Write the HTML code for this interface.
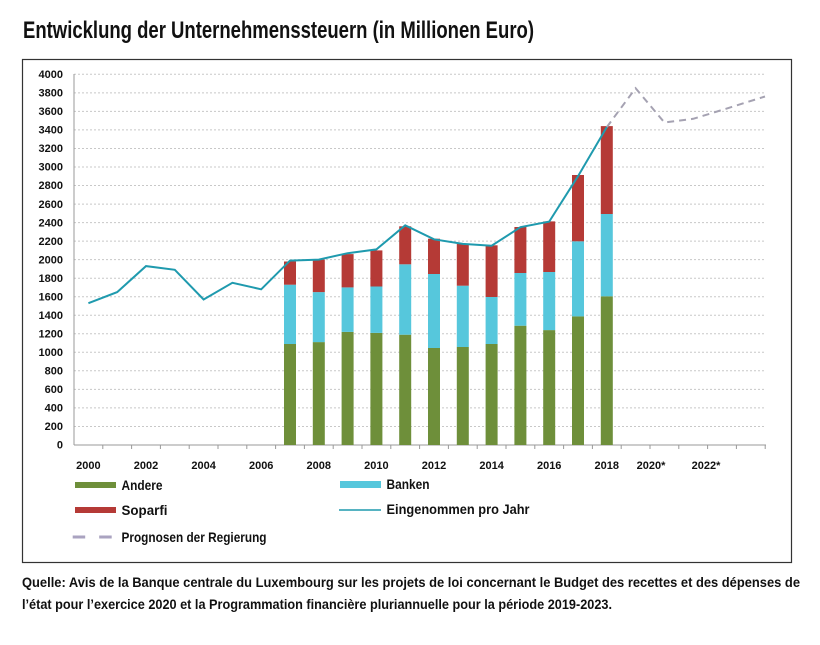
<!DOCTYPE html>
<html><head><meta charset="utf-8"><style>
html,body{margin:0;padding:0;background:#fff;}
svg{display:block;font-family:"Liberation Sans",sans-serif;}
</style></head><body>
<svg width="820" height="645" viewBox="0 0 820 645" xmlns="http://www.w3.org/2000/svg">
<rect width="820" height="645" fill="#fff"/>
<text x="23" y="38" font-size="24" font-weight="bold" fill="#111" textLength="511" lengthAdjust="spacingAndGlyphs">Entwicklung der Unternehmenssteuern (in Millionen Euro)</text>
<rect x="22.5" y="59.5" width="769" height="503" fill="none" stroke="#333" stroke-width="1.2"/>
<g stroke="#c8c8c8" stroke-width="1" stroke-dasharray="2,2">
<line x1="74" x2="766" y1="74.3" y2="74.3"/><line x1="74" x2="766" y1="92.9" y2="92.9"/><line x1="74" x2="766" y1="111.4" y2="111.4"/><line x1="74" x2="766" y1="129.9" y2="129.9"/><line x1="74" x2="766" y1="148.5" y2="148.5"/><line x1="74" x2="766" y1="167.0" y2="167.0"/><line x1="74" x2="766" y1="185.5" y2="185.5"/><line x1="74" x2="766" y1="204.1" y2="204.1"/><line x1="74" x2="766" y1="222.6" y2="222.6"/><line x1="74" x2="766" y1="241.1" y2="241.1"/><line x1="74" x2="766" y1="259.6" y2="259.6"/><line x1="74" x2="766" y1="278.2" y2="278.2"/><line x1="74" x2="766" y1="296.7" y2="296.7"/><line x1="74" x2="766" y1="315.2" y2="315.2"/><line x1="74" x2="766" y1="333.8" y2="333.8"/><line x1="74" x2="766" y1="352.3" y2="352.3"/><line x1="74" x2="766" y1="370.8" y2="370.8"/><line x1="74" x2="766" y1="389.4" y2="389.4"/><line x1="74" x2="766" y1="407.9" y2="407.9"/><line x1="74" x2="766" y1="426.5" y2="426.5"/>
</g>
<g stroke="#999" stroke-width="1">
<line x1="74" y1="74" x2="74" y2="445"/>
<line x1="74" y1="445" x2="766" y2="445"/>
</g>
<g font-size="11" font-weight="bold" fill="#111" text-anchor="end">
<text x="63" y="78">4000</text><text x="63" y="96.6">3800</text><text x="63" y="115.1">3600</text><text x="63" y="133.6">3400</text><text x="63" y="152.2">3200</text><text x="63" y="170.7">3000</text><text x="63" y="189.2">2800</text><text x="63" y="207.8">2600</text><text x="63" y="226.3">2400</text><text x="63" y="244.8">2200</text><text x="63" y="263.3">2000</text><text x="63" y="281.9">1800</text><text x="63" y="300.4">1600</text><text x="63" y="318.9">1400</text><text x="63" y="337.5">1200</text><text x="63" y="356">1000</text><text x="63" y="374.5">800</text><text x="63" y="393.1">600</text><text x="63" y="411.6">400</text><text x="63" y="430.2">200</text><text x="63" y="448.7">0</text>
</g>
<g font-size="11" font-weight="bold" fill="#111" text-anchor="middle">
<text x="88.4" y="469">2000</text><text x="146" y="469">2002</text><text x="203.6" y="469">2004</text><text x="261.2" y="469">2006</text><text x="318.8" y="469">2008</text><text x="376.4" y="469">2010</text><text x="434" y="469">2012</text><text x="491.6" y="469">2014</text><text x="549.2" y="469">2016</text><text x="606.8" y="469">2018</text><text x="651" y="469">2020*</text><text x="706" y="469">2022*</text>
</g>
<g>
<rect x="284" y="344.0" width="12" height="101" fill="#6e8f3a"/><rect x="284" y="284.7" width="12" height="59.3" fill="#56c7dc"/><rect x="284" y="261.5" width="12" height="23.2" fill="#b53a36"/>
<rect x="312.8" y="342.1" width="12" height="102.9" fill="#6e8f3a"/><rect x="312.8" y="292.1" width="12" height="50" fill="#56c7dc"/><rect x="312.8" y="259.6" width="12" height="32.5" fill="#b53a36"/>
<rect x="341.6" y="331.9" width="12" height="113.1" fill="#6e8f3a"/><rect x="341.6" y="287.4" width="12" height="44.5" fill="#56c7dc"/><rect x="341.6" y="254.1" width="12" height="33.3" fill="#b53a36"/>
<rect x="370.4" y="332.9" width="12" height="112.1" fill="#6e8f3a"/><rect x="370.4" y="286.5" width="12" height="46.4" fill="#56c7dc"/><rect x="370.4" y="250.4" width="12" height="36.1" fill="#b53a36"/>
<rect x="399.2" y="334.7" width="12" height="110.3" fill="#6e8f3a"/><rect x="399.2" y="264.3" width="12" height="70.4" fill="#56c7dc"/><rect x="399.2" y="226.3" width="12" height="38" fill="#b53a36"/>
<rect x="428" y="348.0" width="12" height="97" fill="#6e8f3a"/><rect x="428" y="274.0" width="12" height="74" fill="#56c7dc"/><rect x="428" y="238.7" width="12" height="35.3" fill="#b53a36"/>
<rect x="456.8" y="347.0" width="12" height="98" fill="#6e8f3a"/><rect x="456.8" y="285.7" width="12" height="61.3" fill="#56c7dc"/><rect x="456.8" y="244.0" width="12" height="41.7" fill="#b53a36"/>
<rect x="485.6" y="344.0" width="12" height="101" fill="#6e8f3a"/><rect x="485.6" y="297.0" width="12" height="47" fill="#56c7dc"/><rect x="485.6" y="245.3" width="12" height="51.7" fill="#b53a36"/>
<rect x="514.4" y="325.7" width="12" height="119.3" fill="#6e8f3a"/><rect x="514.4" y="273.0" width="12" height="52.7" fill="#56c7dc"/><rect x="514.4" y="227.0" width="12" height="46" fill="#b53a36"/>
<rect x="543.2" y="330.1" width="12" height="114.9" fill="#6e8f3a"/><rect x="543.2" y="272.0" width="12" height="58.1" fill="#56c7dc"/><rect x="543.2" y="221.4" width="12" height="50.6" fill="#b53a36"/>
<rect x="572" y="316.4" width="12" height="128.6" fill="#6e8f3a"/><rect x="572" y="241.3" width="12" height="75.1" fill="#56c7dc"/><rect x="572" y="175.0" width="12" height="66.3" fill="#b53a36"/>
<rect x="600.8" y="296.3" width="12" height="148.7" fill="#6e8f3a"/><rect x="600.8" y="214.0" width="12" height="82.3" fill="#56c7dc"/><rect x="600.8" y="126.1" width="12" height="87.9" fill="#b53a36"/>
</g>
<g stroke="#999" stroke-width="1">
<line x1="102.8" y1="445" x2="102.8" y2="449"/><line x1="131.6" y1="445" x2="131.6" y2="449"/><line x1="160.4" y1="445" x2="160.4" y2="449"/><line x1="189.2" y1="445" x2="189.2" y2="449"/><line x1="218" y1="445" x2="218" y2="449"/><line x1="246.8" y1="445" x2="246.8" y2="449"/><line x1="275.6" y1="445" x2="275.6" y2="449"/><line x1="304.4" y1="445" x2="304.4" y2="449"/><line x1="333.2" y1="445" x2="333.2" y2="449"/><line x1="362" y1="445" x2="362" y2="449"/><line x1="390.8" y1="445" x2="390.8" y2="449"/><line x1="419.6" y1="445" x2="419.6" y2="449"/><line x1="448.4" y1="445" x2="448.4" y2="449"/><line x1="477.2" y1="445" x2="477.2" y2="449"/><line x1="506" y1="445" x2="506" y2="449"/><line x1="534.8" y1="445" x2="534.8" y2="449"/><line x1="563.6" y1="445" x2="563.6" y2="449"/><line x1="592.4" y1="445" x2="592.4" y2="449"/><line x1="621.2" y1="445" x2="621.2" y2="449"/><line x1="650" y1="445" x2="650" y2="449"/><line x1="678.8" y1="445" x2="678.8" y2="449"/><line x1="707.6" y1="445" x2="707.6" y2="449"/><line x1="736.4" y1="445" x2="736.4" y2="449"/><line x1="765.2" y1="445" x2="765.2" y2="449"/>
</g>
<polyline fill="none" stroke="#a5a2b2" stroke-width="2" stroke-dasharray="7,5" points="606.8,127.1 635.6,88.2 664.4,122.5 693.2,118.8 722,110 765,96.5"/>
<polyline fill="none" stroke="#1f9aae" stroke-width="2" points="88.4,303.2 117.2,292.1 146,266.1 174.8,269.8 203.6,299.5 232.4,282.8 261.2,289.3 290,260.6 318.8,259.6 347.6,253.2 376.4,249.4 405.2,225.3 434,239.3 462.8,243.9 491.6,245.7 520.4,227.2 549.2,221.6 578,176.2 606.8,127.1"/>
<g font-size="14" font-weight="bold" fill="#111">
<rect x="75" y="482" width="41" height="6" fill="#6e8f3a"/><text x="121.5" y="490" textLength="41" lengthAdjust="spacingAndGlyphs">Andere</text>
<rect x="340" y="481" width="41" height="7" fill="#56c7dc"/><text x="386.5" y="489" textLength="43" lengthAdjust="spacingAndGlyphs">Banken</text>
<rect x="75" y="507" width="41" height="6" fill="#b53a36"/><text x="121.5" y="515" textLength="46" lengthAdjust="spacingAndGlyphs">Soparfi</text>
<line x1="339" y1="510" x2="381" y2="510" stroke="#1f9aae" stroke-width="1.6"/><text x="386.5" y="514" textLength="143" lengthAdjust="spacingAndGlyphs">Eingenommen pro Jahr</text>
<line x1="72.7" y1="537" x2="112.7" y2="537" stroke="#aaa3c0" stroke-width="3" stroke-dasharray="12.5,14"/><text x="121.5" y="542" textLength="145" lengthAdjust="spacingAndGlyphs">Prognosen der Regierung</text>
</g>
<g font-size="14" font-weight="bold" fill="#111">
<text x="22" y="587" textLength="778" lengthAdjust="spacingAndGlyphs">Quelle: Avis de la Banque centrale du Luxembourg sur les projets de loi concernant le Budget des recettes et des dépenses de</text>
<text x="22" y="609" textLength="590" lengthAdjust="spacingAndGlyphs">l’état pour l’exercice 2020 et la Programmation financière pluriannuelle pour la période 2019-2023.</text>
</g>
</svg>
</body></html>
